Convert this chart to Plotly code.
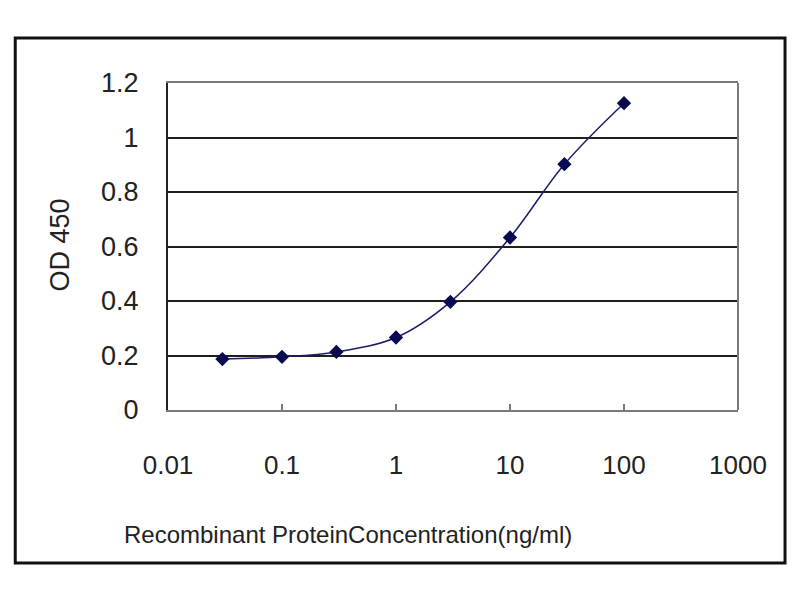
import plotly.graph_objects as go

# ELISA standard curve
conc = [0.03, 0.1, 0.3, 1, 3, 10, 30, 100]
od450 = [0.187, 0.195, 0.213, 0.266, 0.397, 0.633, 0.902, 1.126]

xticks = [0.01, 0.1, 1, 10, 100, 1000]
xlabels = ["0.01", "0.1", "1", "10", "100", "1000"]
yticks = [0, 0.2, 0.4, 0.6, 0.8, 1, 1.2]
ylabels = ["0", "0.2", "0.4", "0.6", "0.8", "1", "1.2"]

font = "Liberation Sans, Arial, sans-serif"

fig = go.Figure()
fig.add_trace(go.Scatter(
    x=conc, y=od450, mode="lines+markers",
    line=dict(color="#1c1c6a", width=1.5, shape="spline", smoothing=1.0),
    marker=dict(symbol="diamond", size=11, color="#0a0a50"),
    showlegend=False,
))

fig.update_xaxes(
    type="log", range=[-2, 3], automargin=False,
    tickvals=xticks, ticktext=xlabels,
    showgrid=False, zeroline=False,
    showline=True, linecolor="#7a7a7a", linewidth=2, mirror=True,
    ticks="inside", ticklen=6, tickcolor="#7a7a7a", tickwidth=1.5,
    ticklabelstandoff=31,
    tickfont=dict(family=font, size=26, color="#222"),
)
fig.update_yaxes(
    range=[0, 1.2], tickvals=yticks, ticktext=ylabels, automargin=False,
    showgrid=True, gridcolor="#1e1e1e", gridwidth=2, zeroline=False,
    showline=True, linecolor="#222", linewidth=2,
    ticks="", ticklabelstandoff=22,
    tickfont=dict(family=font, size=27, color="#222"),
)

# light grey right edge of the plot frame
fig.add_shape(type="line", xref="paper", yref="paper", x0=1, x1=1, y0=0, y1=1,
              line=dict(color="#7a7a7a", width=2))
# outer chart border
fig.add_shape(type="rect", xref="paper", yref="paper",
              x0=-0.268, x1=1.0825, y0=-0.468, y1=1.1376,
              line=dict(color="#111", width=3))

fig.add_annotation(text="Recombinant ProteinConcentration(ng/ml)",
                   xref="paper", yref="paper", x=0.316, y=-0.382,
                   xanchor="center", yanchor="middle",
                   showarrow=False, font=dict(family=font, size=24, color="#222"))
fig.add_annotation(text="OD 450", textangle=-90,
                   xref="paper", yref="paper", x=-0.19, y=0.505,
                   xanchor="center", yanchor="middle",
                   showarrow=False, font=dict(family=font, size=27, color="#222"))

# page body adds an 8px offset, so margins are shifted to compensate
fig.update_layout(
    width=800, height=600,
    margin=dict(l=160, r=70, t=75, b=198, autoexpand=False),
    paper_bgcolor="white", plot_bgcolor="white",
)

fig.write_html("out.html")
